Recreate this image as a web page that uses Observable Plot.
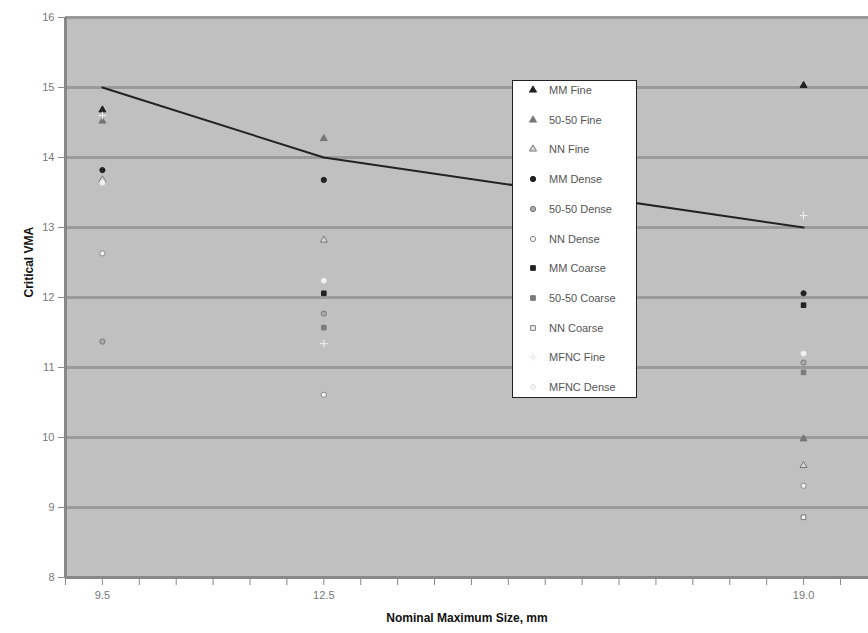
<!DOCTYPE html>
<html><head><meta charset="utf-8">
<script src="https://cdn.jsdelivr.net/npm/d3@7"></script>
<script src="https://cdn.jsdelivr.net/npm/@observablehq/plot@0.6"></script>
<style>
body{margin:0;background:#fff;font-family:"Liberation Sans",Arial,sans-serif;}
#wrap{position:relative;width:868px;height:633px;overflow:hidden;}
#legend{position:absolute;left:512px;top:80px;width:125px;height:318px;background:#fff;border:1px solid #222;box-sizing:border-box;}
.row{position:absolute;left:0;height:14px;display:flex;align-items:center;font-size:11px;color:#555;white-space:nowrap;}
.row svg{position:absolute;left:14px;top:0;}
.row span{position:absolute;left:36px;top:0;line-height:14px;}
</style></head><body><div id="wrap"></div>
<script>
// Data
const sizes = [9.5, 12.5, 19.0];
const criterion = [15, 14, 13];
const seriesNames = ["MM Fine", "50-50 Fine", "NN Fine", "MM Dense", "50-50 Dense", "NN Dense",
  "MM Coarse", "50-50 Coarse", "NN Coarse", "MFNC Fine", "MFNC Dense"];
const mmFine      = [14.68, null, 15.03];
const fiftyFine   = [14.52, 14.27, 9.98];
const nnFine      = [13.68, 12.82, 9.60];
const mmDense     = [13.82, 13.68, 12.06];
const fiftyDense  = [11.37, 11.77, 11.07];
const nnDense     = [12.63, 10.61, 9.31];
const mmCoarse    = [null, 12.06, 11.89];
const fiftyCoarse = [null, 11.57, 10.93];
const nnCoarse    = [null, null, 8.86];
const mfncFine    = [14.60, 11.34, 13.17];
const mfncDense   = [13.64, 12.24, 11.20];
const yTicks = [8, 9, 10, 11, 12, 13, 14, 15, 16];
const xLabelled = [9.5, 12.5, 19.0];
const xMinor = d3.range(9, 19.51, 0.5);

// Styles
const seriesValues = [mmFine, fiftyFine, nnFine, mmDense, fiftyDense, nnDense, mmCoarse, fiftyCoarse, nnCoarse, mfncFine, mfncDense];
const symbols = ["triangle", "triangle", "triangle", "circle", "circle", "circle", "square", "square", "square", "plus", "circle"];
const d3Symbols = [d3.symbolTriangle, d3.symbolTriangle, d3.symbolTriangle, d3.symbolCircle, d3.symbolCircle, d3.symbolCircle, d3.symbolSquare, d3.symbolSquare, d3.symbolSquare, d3.symbolCross, d3.symbolCircle];
const fills   = ["#222", "#777", "#d8d8d8", "#222", "#aaa", "#f4f4f4", "#222", "#7a7a7a", "#f4f4f4", "#f2f2f2", "#f2f2f2"];
const strokes = ["#222", "#777", "#777", "#222", "#777", "#888", "#222", "#7a7a7a", "#777", "#f2f2f2", "#e8e8e8"];

const table = [];
seriesNames.forEach((name, i) => {
  seriesValues[i].forEach((v, j) => {
    if (v != null) table.push({size: sizes[j], vma: v, series: name, i});
  });
});
const lineData = sizes.map((s, j) => ({size: s, vma: criterion[j]}));

const plot = Plot.plot({
  width: 868, height: 633,
  marginLeft: 65, marginRight: 0, marginTop: 17, marginBottom: 56,
  style: {background: "transparent", fontFamily: "Liberation Sans, Arial, sans-serif", overflow: "visible"},
  x: {domain: [9, 19.88], label: null},
  y: {domain: [8, 16], label: null},
  symbol: {domain: seriesNames, range: symbols},
  marks: [
    Plot.frame({fill: "#c0c0c0", stroke: "none"}),
    Plot.ruleY(yTicks.filter(v => v > 8), {stroke: "#9a9a9a", strokeWidth: 3}),
    Plot.axisY(yTicks, {tickSize: 7, tickPadding: 4, stroke: "#888", color: "#777", fontSize: 11, label: null, tickFormat: d => String(d)}),
    Plot.axisX(xMinor, {tickSize: 8, tickPadding: 6, stroke: "#888", color: "#777", fontSize: 11, label: null,
      tickFormat: d => xLabelled.includes(d) ? d.toFixed(1) : ""}),
    Plot.ruleX([9], {stroke: "#888", strokeWidth: 3}),
    Plot.ruleY([8], {stroke: "#888", strokeWidth: 3}),
    Plot.text(["Critical VMA"], {frameAnchor: "left", dx: -36, rotate: -90, fill: "#111", fontSize: 12, fontWeight: "bold"}),
    Plot.text(["Nominal Maximum Size, mm"], {frameAnchor: "bottom", dy: 44, fill: "#111", fontSize: 12, fontWeight: "bold"}),
    Plot.line(lineData, {x: "size", y: "vma", stroke: "#222", strokeWidth: 2}),
    Plot.dot(table, {x: "size", y: "vma", symbol: "series", r: 2.6,
      fill: d => fills[d.i], stroke: d => strokes[d.i], strokeWidth: 1})
  ]
});
const wrap = document.getElementById("wrap");
wrap.appendChild(plot);

// Legend
const legend = document.createElement("div");
legend.id = "legend";
seriesNames.forEach((name, i) => {
  const row = document.createElement("div");
  row.className = "row";
  row.style.top = (2 + i * 29.7) + "px";
  const svg = d3.create("svg").attr("width", 12).attr("height", 14);
  svg.append("path").attr("transform", "translate(6,7)")
    .attr("d", d3.symbol(d3Symbols[i], 22)())
    .attr("fill", fills[i]).attr("stroke", strokes[i]).attr("stroke-width", 1);
  row.appendChild(svg.node());
  const sp = document.createElement("span");
  sp.textContent = name;
  row.appendChild(sp);
  legend.appendChild(row);
});
wrap.appendChild(legend);
</script>
</body></html>
